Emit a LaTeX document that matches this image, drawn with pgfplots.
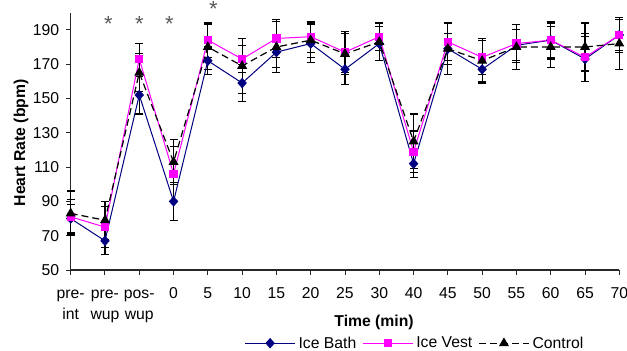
\documentclass[border=0pt]{standalone}
\usepackage{fontspec}
\setmainfont{Liberation Sans}
\usepackage{pgfplots}
\usepackage{pgfplotstable}
\pgfplotsset{compat=1.18}

\definecolor{bathblue}{RGB}{0,0,128}
\definecolor{vestpink}{RGB}{255,0,255}
\definecolor{stargray}{RGB}{90,90,90}

% x = category index (pre-int, pre-wup, pos-wup, 0, 5, ..., 30, 40, ..., 70)
% y = mean heart rate (bpm), e = error bar half-length
\pgfplotstableread{
x y e
0 80 8
1 67 8
2 152 11
3 90 11
4 172 8
5 159 11
6 177 9
7 182 11
8 167 9
9 182 10
10 112 8
11 179 9
12 167 7
13 181 9
14 184 10
15 173 13
16 187 10
}\bathdata

\pgfplotstableread{
x y e
0 81 10
1 75 12
2 173 9
3 106 16
4 184 10
5 173 8
6 185 11
7 186 9
8 177 12
9 186 8
10 119 12
11 183 11
12 174 10
13 182 11
14 184 11
15 174 14
16 187 9
}\vestdata

\pgfplotstableread{
x y e
0 83 13
1 79 11
2 165 11
3 113 13
4 180 13
5 169 16
6 180 15
7 184 10
8 176 12
9 183 11
10 125 16
11 179 15
12 172 13
13 180 13
14 180 12
15 180 14
16 182 15
}\controldata

\newcommand{\lblfont}{\fontsize{15.8}{21}\selectfont}

\begin{document}
\begin{tikzpicture}
\useasboundingbox (-70.7bp,-81bp) rectangle (556.3bp,270bp);
\begin{axis}[
  at={(0,0)}, anchor=south west,
  scale only axis, width=548.6bp, height=257.3bp,
  xmin=0, xmax=16, ymin=50, ymax=200,
  axis lines=left,
  axis line style={-, line width=1.2bp, black!85},
  clip=false,
  xtick={0,...,16},
  xticklabels={{\strut pre-\\int},{\strut pre-\\wup},{\strut pos-\\wup},
    {\strut 0},{\strut 5},{\strut 10},{\strut 15},{\strut 20},{\strut 25},
    {\strut 30},{\strut 40},{\strut 45},{\strut 50},{\strut 55},{\strut 60},
    {\strut 65},{\strut 70}},
  ytick={50,70,...,190},
  tick align=outside,
  major tick length=4.5bp,
  tick style={line width=1bp, black!85},
  /pgf/number format/assume math mode=true,
  yticklabel style={font=\lblfont, anchor=east, inner sep=0pt, xshift=-6.9bp},
  xticklabel style={font=\lblfont, anchor=north, align=center, inner sep=0pt, yshift=-9.4bp},
  xlabel={Time (min)},
  xlabel style={font=\lblfont\bfseries, at={(axis description cs:0.553,-0.2215)}, anchor=base, inner sep=0pt},
  ylabel={Heart Rate (bpm)},
  ylabel style={font=\lblfont\bfseries, at={(axis description cs:-0.0833,0.4945)}, anchor=base, inner sep=0pt},
  legend columns=3,
  legend style={draw=none, fill=none, at={(axis description cs:0.3170,-0.2845)}, anchor=west,
    inner sep=0pt, outer sep=0pt,
    nodes={inner sep=3bp, font=\lblfont},
    /tikz/every even column/.append style={column sep=3bp}},
  legend image code/.code={\draw[mark repeat=2,mark phase=2,#1] plot coordinates {(0bp,0bp) (25bp,0bp) (50bp,0bp)};},
  error bars/error bar style={black, line width=1.2bp, solid},
  error bars/error mark options={black, line width=1.2bp, mark size=4bp, solid, rotate=90},
]
\addplot[bathblue, line width=1bp, mark=diamond*, mark size=4.5bp,
  mark options={solid, fill=bathblue, xscale=1.2},
  error bars/.cd, y dir=both, y explicit]
  table[x=x, y=y, y error=e] {\bathdata};
\addlegendentry{Ice Bath}
\addplot[vestpink, line width=1bp, mark=square*, mark size=3.6bp,
  mark options={solid, fill=vestpink},
  error bars/.cd, y dir=both, y explicit]
  table[x=x, y=y, y error=e] {\vestdata};
\addlegendentry{Ice Vest}
\addplot[black, line width=1.2bp, dash pattern=on 7bp off 4bp, mark=triangle*, mark size=4.6bp,
  mark options={solid, fill=black},
  error bars/.cd, y dir=both, y explicit]
  table[x=x, y=y, y error=e] {\controldata};
\addlegendentry{Control}

% significance markers
\node[text=stargray, font=\fontsize{22}{24}\selectfont, inner sep=0pt, yshift=-4.8bp] at (axis cs:1.097,196.4) {*};
\node[text=stargray, font=\fontsize{22}{24}\selectfont, inner sep=0pt, yshift=-4.8bp] at (axis cs:2.0,196.4) {*};
\node[text=stargray, font=\fontsize{22}{24}\selectfont, inner sep=0pt, yshift=-4.8bp] at (axis cs:2.875,196.4) {*};
\node[text=stargray, font=\fontsize{22}{24}\selectfont, inner sep=0pt, yshift=-4.8bp] at (axis cs:4.16,205.1) {*};
\end{axis}
\end{tikzpicture}
\end{document}
